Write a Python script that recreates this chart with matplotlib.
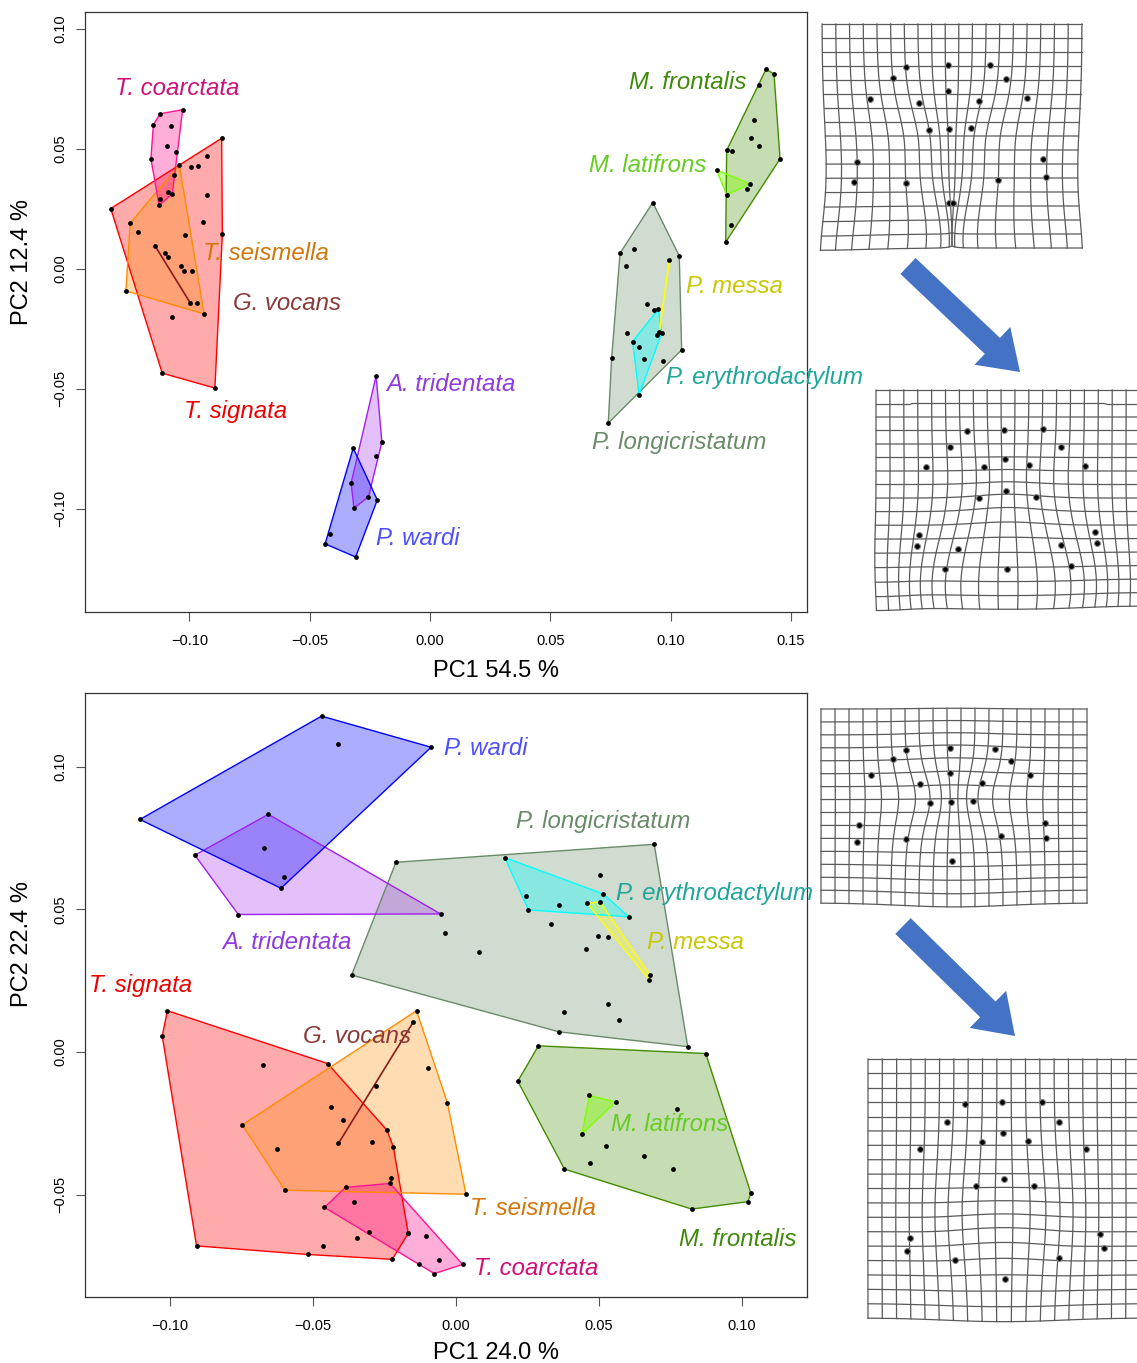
import numpy as np
import matplotlib.pyplot as plt
from matplotlib.patches import FancyArrow

plt.rcParams['font.family'] = ['Liberation Sans', 'DejaVu Sans']

#PC1 / PC2 scores (top panel)
top_t_coarctata = [(-0.1122, 0.0646), (-0.1028, 0.0663), (-0.1150, 0.0600), (-0.1076, 0.0593), (-0.1092, 0.0513),
                   (-0.1057, 0.0488), (-0.1160, 0.0458), (-0.1063, 0.0392), (-0.1088, 0.0320), (-0.1071, 0.0313),
                   (-0.1122, 0.0290), (-0.1126, 0.0264)]
top_t_signata = [(-0.1327, 0.0251), (-0.0866, 0.0544), (-0.0863, 0.0146), (-0.0894, -0.0497), (-0.1113, -0.0435),
                 (-0.0928, 0.0472), (-0.0993, 0.0424), (-0.0963, 0.0429), (-0.0928, 0.0306), (-0.0942, 0.0193),
                 (-0.1071, -0.0200), (-0.1018, 0.0139), (-0.0988, -0.0011)]
top_t_seismella = [(-0.1042, 0.0433), (-0.1246, 0.0190), (-0.1264, -0.0092), (-0.0939, -0.0188), (-0.1215, 0.0154),
                   (-0.1101, 0.0065), (-0.1090, 0.0051), (-0.1036, 0.0013), (-0.1021, -0.0011), (-0.0967, -0.0143)]
top_g_vocans = [(-0.1143, 0.0096), (-0.0996, -0.0143)]
top_a_tridentata = [(-0.0224, -0.0446), (-0.0200, -0.0722), (-0.0226, -0.0782), (-0.0256, -0.0951),
                    (-0.0316, -0.0997), (-0.0328, -0.0893)]
top_p_wardi = [(-0.0319, -0.0747), (-0.0219, -0.0963), (-0.0309, -0.1201), (-0.0436, -0.1146), (-0.0416, -0.1105)]
top_m_frontalis = [(0.1397, 0.0832), (0.1430, 0.0811), (0.1369, 0.0767), (0.1347, 0.0620), (0.1333, 0.0547),
                   (0.1367, 0.0510), (0.1233, 0.0493), (0.1254, 0.0492), (0.1455, 0.0458), (0.1319, 0.0333),
                   (0.1250, 0.0183), (0.1229, 0.0111)]
top_m_latifrons = [(0.1191, 0.0412), (0.1330, 0.0354), (0.1233, 0.0308)]
top_p_longicristatum = [(0.0926, 0.0276), (0.0790, 0.0065), (0.0848, 0.0082), (0.1036, 0.0054), (0.0815, 0.0010),
                        (0.0901, -0.0147), (0.0931, -0.0171), (0.0817, -0.0268), (0.1046, -0.0338),
                        (0.0870, -0.0326), (0.0891, -0.0375), (0.0970, -0.0383), (0.0755, -0.0372),
                        (0.0741, -0.0643)]
top_p_erythrodactylum = [(0.0949, -0.0168), (0.0963, -0.0268), (0.0869, -0.0525), (0.0842, -0.0303),
                         (0.0942, -0.0275)]
top_p_messa = [(0.0995, 0.0037), (0.0953, -0.0265)]

#PC1 / PC2 scores (bottom panel)
bot_p_wardi = [(-0.0470, 0.1177), (-0.0411, 0.1079), (-0.0087, 0.1068), (-0.1105, 0.0815), (-0.0612, 0.0574),
               (-0.0670, 0.0716)]
bot_a_tridentata = [(-0.0656, 0.0833), (-0.0054, 0.0484), (-0.0761, 0.0482), (-0.0913, 0.0690), (-0.0601, 0.0612)]
bot_p_longicristatum = [(-0.0210, 0.0665), (0.0693, 0.0728), (0.0810, 0.0019), (0.0360, 0.0071), (-0.0365, 0.0270),
                        (-0.0037, 0.0416), (0.0082, 0.0350), (0.0331, 0.0448), (0.0503, 0.0620), (0.0455, 0.0362),
                        (0.0498, 0.0406), (0.0530, 0.0402), (0.0533, 0.0167), (0.0378, 0.0139), (0.0571, 0.0111)]
bot_p_erythrodactylum = [(0.0171, 0.0681), (0.0515, 0.0554), (0.0604, 0.0474), (0.0253, 0.0498), (0.0245, 0.0547),
                         (0.0360, 0.0517)]
bot_p_messa = [(0.0459, 0.0521), (0.0503, 0.0527), (0.0676, 0.0252), (0.0678, 0.0270)]
bot_t_signata = [(-0.1009, 0.0145), (-0.1027, 0.0056), (-0.0907, -0.0679), (-0.0223, -0.0726), (-0.0167, -0.0635),
                 (-0.0219, -0.0332), (-0.0242, -0.0273), (-0.0449, -0.0040), (-0.0674, -0.0046),
                 (-0.0437, -0.0194), (-0.0394, -0.0238), (-0.0625, -0.0338), (-0.0295, -0.0314),
                 (-0.0227, -0.0440), (-0.0464, -0.0679), (-0.0519, -0.0709), (-0.0345, -0.0653)]
bot_t_seismella = [(-0.0138, 0.0145), (-0.0097, -0.0054), (-0.0030, -0.0178), (0.0035, -0.0498), (-0.0598, -0.0484),
                   (-0.0747, -0.0255), (-0.0280, -0.0119)]
bot_g_vocans = [(-0.0149, 0.0106), (-0.0411, -0.0320)]
bot_t_coarctata = [(-0.0460, -0.0544), (-0.0386, -0.0474), (-0.0231, -0.0460), (0.0023, -0.0744), (-0.0076, -0.0776),
                   (-0.0128, -0.0743), (-0.0304, -0.0630), (-0.0357, -0.0526), (-0.0105, -0.0645),
                   (-0.0059, -0.0730), (-0.0169, -0.0635)]
bot_m_frontalis = [(0.0288, 0.0022), (0.0873, -0.0005), (0.1031, -0.0495), (0.1020, -0.0524), (0.0824, -0.0550),
                   (0.0379, -0.0410), (0.0216, -0.0102), (0.0772, -0.0201), (0.0523, -0.0330), (0.0657, -0.0363),
                   (0.0469, -0.0390), (0.0760, -0.0408)]
bot_m_latifrons = [(0.0466, -0.0152), (0.0558, -0.0175), (0.0440, -0.0287)]

top_var = ('PC1 54.5 %', 'PC2 12.4 %')
bot_var = ('PC1 24.0 %', 'PC2 22.4 %')

#landmarks on the deformation grids (fraction of grid box, y up)
grid1_marks = [(0.323, 0.809), (0.484, 0.819), (0.646, 0.816), (0.274, 0.758), (0.707, 0.756), (0.185, 0.666),
               (0.374, 0.647), (0.485, 0.702), (0.603, 0.656), (0.787, 0.670), (0.410, 0.528), (0.488, 0.532),
               (0.573, 0.535), (0.135, 0.382), (0.123, 0.296), (0.324, 0.291), (0.676, 0.303), (0.850, 0.399),
               (0.863, 0.319), (0.488, 0.199), (0.503, 0.199)]
grid2_marks = [(0.344, 0.809), (0.484, 0.816), (0.632, 0.818), (0.280, 0.738), (0.699, 0.738), (0.188, 0.645),
               (0.410, 0.645), (0.488, 0.680), (0.578, 0.652), (0.790, 0.649), (0.389, 0.502), (0.491, 0.533),
               (0.605, 0.503), (0.163, 0.327), (0.156, 0.276), (0.309, 0.266), (0.699, 0.283), (0.829, 0.344),
               (0.837, 0.292), (0.260, 0.171), (0.496, 0.170), (0.738, 0.184)]
grid3_marks = [(0.319, 0.791), (0.485, 0.799), (0.654, 0.793), (0.270, 0.740), (0.715, 0.734), (0.187, 0.660),
               (0.371, 0.613), (0.486, 0.668), (0.606, 0.621), (0.787, 0.660), (0.410, 0.518), (0.487, 0.521),
               (0.573, 0.525), (0.144, 0.400), (0.136, 0.312), (0.319, 0.332), (0.677, 0.346), (0.841, 0.414),
               (0.847, 0.334), (0.492, 0.215)]
grid4_marks = [(0.356, 0.828), (0.493, 0.833), (0.639, 0.833), (0.292, 0.757), (0.703, 0.757), (0.190, 0.653),
               (0.419, 0.678), (0.4975, 0.713), (0.587, 0.683), (0.803, 0.653), (0.397, 0.508), (0.500, 0.537),
               (0.612, 0.508), (0.155, 0.308), (0.145, 0.257), (0.319, 0.225), (0.701, 0.233), (0.852, 0.323),
               (0.868, 0.270), (0.502, 0.150)]

#name: (hull colour, fill alpha, label colour)
styles = {
    'T. coarctata': ('#FF1493', 0.35, '#D0107A'),
    'T. signata': ('#FF0000', 0.33, '#EE0000'),
    'T. seismella': ('#FF8C00', 0.30, '#D2760A'),
    'G. vocans': ('#8B1A1A', 0.30, '#8B3A3A'),
    'A. tridentata': ('#A020F0', 0.28, '#8E3BE0'),
    'P. wardi': ('#0000FF', 0.32, '#4F4FFF'),
    'M. frontalis': ('#458B00', 0.30, '#3F8A0A'),
    'M. latifrons': ('#7FFF00', 0.40, '#66CC22'),
    'P. longicristatum': ('#698B69', 0.30, '#698B69'),
    'P. erythrodactylum': ('#00FFFF', 0.35, '#1FA69A'),
    'P. messa': ('#FFFF00', 0.30, '#C8C800'),
}

top_groups = [('P. longicristatum', top_p_longicristatum), ('M. frontalis', top_m_frontalis),
              ('T. signata', top_t_signata), ('T. seismella', top_t_seismella), ('T. coarctata', top_t_coarctata),
              ('A. tridentata', top_a_tridentata), ('P. wardi', top_p_wardi), ('M. latifrons', top_m_latifrons),
              ('P. erythrodactylum', top_p_erythrodactylum), ('P. messa', top_p_messa), ('G. vocans', top_g_vocans)]
bot_groups = [('P. longicristatum', bot_p_longicristatum), ('M. frontalis', bot_m_frontalis),
              ('T. signata', bot_t_signata), ('T. seismella', bot_t_seismella), ('T. coarctata', bot_t_coarctata),
              ('A. tridentata', bot_a_tridentata), ('P. wardi', bot_p_wardi), ('M. latifrons', bot_m_latifrons),
              ('P. erythrodactylum', bot_p_erythrodactylum), ('P. messa', bot_p_messa), ('G. vocans', bot_g_vocans)]

#label anchors (left, centre) in data units
top_labels = {'T. coarctata': (-0.1309, 0.0750), 'T. seismella': (-0.0943, 0.0062), 'G. vocans': (-0.0819, -0.0146),
              'T. signata': (-0.1022, -0.0596), 'A. tridentata': (-0.0183, -0.0483), 'P. wardi': (-0.0224, -0.1125),
              'M. frontalis': (0.0827, 0.0775), 'M. latifrons': (0.0661, 0.0429), 'P. messa': (0.1064, -0.0075),
              'P. erythrodactylum': (0.0981, -0.0454), 'P. longicristatum': (0.0673, -0.0725)}
bot_labels = {'P. wardi': (-0.0042, 0.1062), 'P. longicristatum': (0.0210, 0.0809),
              'P. erythrodactylum': (0.0559, 0.0557), 'P. messa': (0.0668, 0.0385), 'A. tridentata': (-0.0818, 0.0385),
              'T. signata': (-0.1283, 0.0235), 'G. vocans': (-0.0535, 0.0053), 'M. latifrons': (0.0542, -0.0252),
              'T. seismella': (0.0049, -0.0547), 'M. frontalis': (0.0780, -0.0655), 'T. coarctata': (0.0063, -0.0757)}


def convex_hull(pts):
    pts = sorted(set(pts))
    if len(pts) < 3:
        return pts

    def cross(o, a, b):
        return (a[0] - o[0]) * (b[1] - o[1]) - (a[1] - o[1]) * (b[0] - o[0])
    lower, upper = [], []
    for p in pts:
        while len(lower) >= 2 and cross(lower[-2], lower[-1], p) <= 0:
            lower.pop()
        lower.append(p)
    for p in reversed(pts):
        while len(upper) >= 2 and cross(upper[-2], upper[-1], p) <= 0:
            upper.pop()
        upper.append(p)
    return lower[:-1] + upper[:-1]


def fmt(t):
    return ('%.2f' % t).replace('-', '\u2212')


def pca_panel(ax, groups, labels, xlim, ylim, xticks, yticks):
    for name, pts in groups:
        col, alpha, _ = styles[name]
        h = np.array(convex_hull(pts))
        if len(h) >= 3:
            ax.fill(h[:, 0], h[:, 1], facecolor=col, alpha=alpha, edgecolor='none', zorder=1)
            hc = np.vstack([h, h[:1]])
            ax.plot(hc[:, 0], hc[:, 1], color=col, lw=1.0, zorder=2)
        else:
            ax.plot(h[:, 0], h[:, 1], color=col, lw=1.2, zorder=2)
    for name, pts in groups:
        p = np.array(pts)
        ax.scatter(p[:, 0], p[:, 1], s=12, color='black', zorder=3, linewidths=0)
    for name, (lx, ly) in labels.items():
        ax.text(lx, ly, name, color=styles[name][2], fontsize=17.3, fontstyle='italic',
                ha='left', va='center', clip_on=False, zorder=4)
    ax.set_xlim(*xlim)
    ax.set_ylim(*ylim)
    ax.set_xticks(xticks)
    ax.set_xticklabels([fmt(t) for t in xticks])
    ax.set_yticks(yticks)
    ax.set_yticklabels([fmt(t) for t in yticks], rotation=90, va='center')
    ax.tick_params(direction='out', length=6.5, width=0.8, color='#555555', labelsize=10.5)
    ax.tick_params(axis='x', pad=9)
    ax.tick_params(axis='y', pad=6)
    for s in ax.spines.values():
        s.set_linewidth(0.9)
        s.set_color('#333333')


def warp(u, v, shifts, pinches):
    du = np.zeros_like(u)
    dv = np.zeros_like(v)
    for cx, cy, dx, dy, sg in shifts:
        w = np.exp(-((u - cx) ** 2 + (v - cy) ** 2) / (2 * sg * sg))
        du += dx * w
        dv += dy * w
    #contraction (a > 0) or spreading (a < 0) of columns toward cx
    for cx, cy, a, su, sv in pinches:
        g = np.exp(-(u - cx) ** 2 / (2 * su * su) - (v - cy) ** 2 / (2 * sv * sv))
        du += (cx - u) * a * g
    return u + du, v + dv


def draw_grid(ax, box, nx, ny, shifts, pinches, marks):
    x0, y0, x1, y1 = box
    t = np.linspace(0, 1, 120)
    for i in range(nx + 1):
        u, v = warp(np.full_like(t, i / nx), t, shifts, pinches)
        ax.plot(x0 + u * (x1 - x0), y1 - v * (y1 - y0), color='#5a5a5a', lw=0.9)
    for j in range(ny + 1):
        u, v = warp(t, np.full_like(t, j / ny), shifts, pinches)
        ax.plot(x0 + u * (x1 - x0), y1 - v * (y1 - y0), color='#5a5a5a', lw=0.9)
    m = np.array(marks)
    ax.scatter(x0 + m[:, 0] * (x1 - x0), y1 - m[:, 1] * (y1 - y0), s=18, color='black',
               edgecolors='#888888', linewidths=0.8, zorder=3)


fig = plt.figure(figsize=(11.37, 13.63), dpi=100)

#overlay in pixel units for grids and arrows
over = fig.add_axes([0, 0, 1, 1], zorder=0)
over.set_xlim(0, 1137)
over.set_ylim(1363, 0)
over.axis('off')

s1 = [(0.33, 0.50, 0.025, 0, 0.12), (0.67, 0.50, -0.025, 0, 0.12),
      (0.0, 0.0, -0.015, -0.01, 0.15), (1.0, 0.0, 0.01, 0.0, 0.15), (0.5, 0.0, 0, 0.012, 0.06)]
p1 = [(0.5, 0.0, 0.88, 0.14, 0.20), (0.5, 0.3, 0.25, 0.25, 0.25)]
s2 = [(0.5, 0.45, 0, 0.02, 0.12), (0.0, 0.0, 0.01, -0.02, 0.15), (0.5, 0.0, 0, -0.015, 0.2)]
p2 = [(0.5, 0.1, -0.45, 0.2, 0.18), (0.5, 0.55, 0.15, 0.15, 0.15)]
s3 = [(0.36, 0.55, 0.025, 0, 0.10), (0.64, 0.55, -0.025, 0, 0.10), (0.5, 0.0, 0, -0.02, 0.2),
      (0.5, 0.75, 0, 0.015, 0.15)]
p3 = [(0.5, 0.5, 0.2, 0.15, 0.15)]
s4 = [(0.5, 0.0, 0, -0.015, 0.2), (0.5, 0.30, 0, 0.02, 0.12)]
p4 = [(0.5, 0.4, -0.25, 0.15, 0.18)]
draw_grid(over, (822, 24, 1082, 248), 19, 16, s1, p1, grid1_marks)
draw_grid(over, (876, 390, 1140, 606), 19, 16, s2, p2, grid2_marks)
draw_grid(over, (821, 709, 1087, 903), 19, 15, s3, p3, grid3_marks)
draw_grid(over, (868, 1059, 1140, 1318), 19, 18, s4, p4, grid4_marks)

for (ax0, ay0, ax1, ay1) in [(908, 266, 1020, 372), (903, 926, 1015, 1036)]:
    over.add_patch(FancyArrow(ax0, ay0, ax1 - ax0, ay1 - ay0, width=22, head_width=52, head_length=38,
                              length_includes_head=True, color='#4472C4', lw=0))

ax1 = fig.add_axes([85 / 1137, 1 - 612 / 1363, 722 / 1137, 600 / 1363], zorder=1)
pca_panel(ax1, top_groups, top_labels, (-0.1434, 0.1567), (-0.143, 0.107),
          [-0.10, -0.05, 0.00, 0.05, 0.10, 0.15], [-0.10, -0.05, 0.00, 0.05, 0.10])

ax2 = fig.add_axes([85 / 1137, 1 - 1297 / 1363, 722 / 1137, 604 / 1363], zorder=1)
pca_panel(ax2, bot_groups, bot_labels, (-0.1297, 0.1227), (-0.0858, 0.1258),
          [-0.10, -0.05, 0.00, 0.05, 0.10], [-0.05, 0.00, 0.05, 0.10])

fig.text(496 / 1137, 1 - 671 / 1363, top_var[0], ha='center', va='center', fontsize=17)
fig.text(22 / 1137, 1 - 262 / 1363, top_var[1], ha='center', va='center', fontsize=17, rotation=90)
fig.text(496 / 1137, 1 - 1353 / 1363, bot_var[0], ha='center', va='center', fontsize=17)
fig.text(22 / 1137, 1 - 944 / 1363, bot_var[1], ha='center', va='center', fontsize=17, rotation=90)

fig.savefig('out.png', dpi=100)
